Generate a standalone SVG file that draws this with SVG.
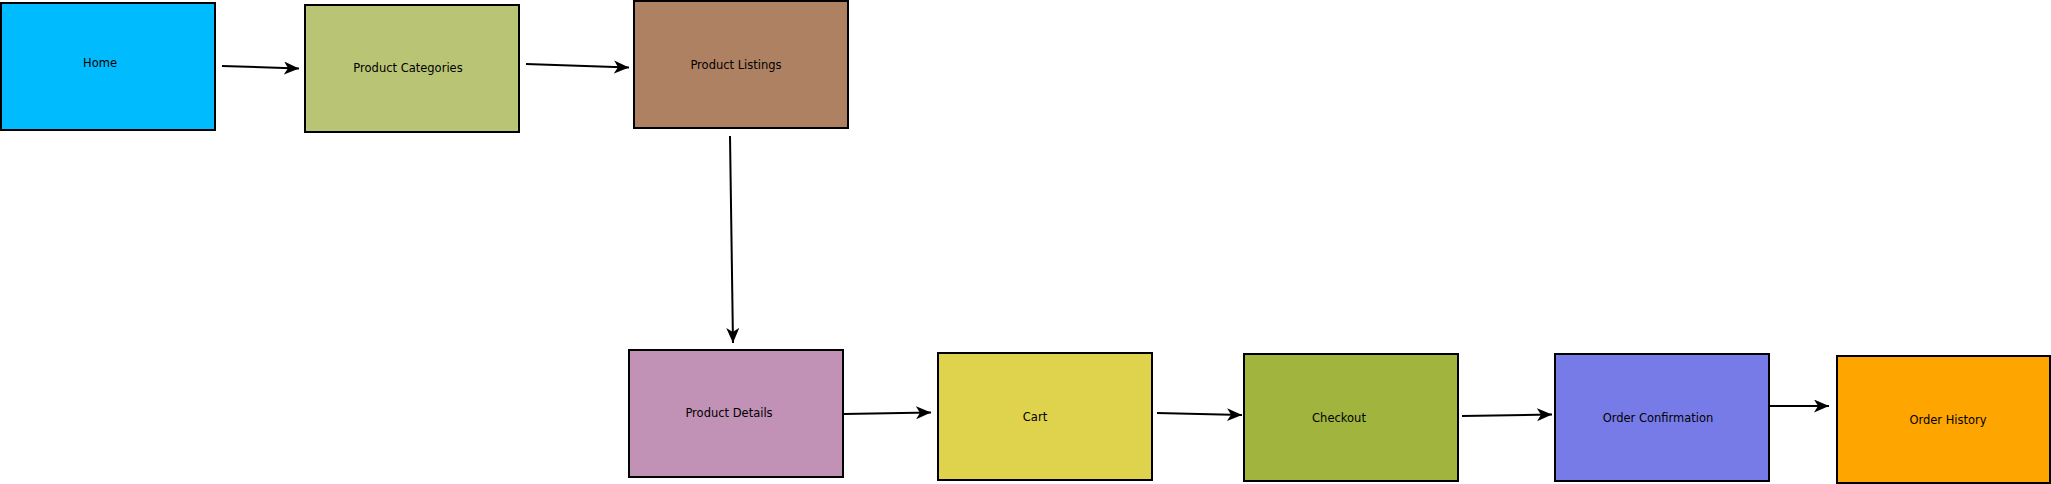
<svg xmlns="http://www.w3.org/2000/svg" width="2051" height="484" viewBox="0 0 2051 484">
<style>
.box{stroke:#000;stroke-width:2}
.lbl{font-family:"DejaVu Sans",sans-serif;font-size:11.5px;fill:#000;text-anchor:middle;dominant-baseline:central}
.edge{stroke:#000;stroke-width:2;fill:none;marker-end:url(#ah)}
</style>
<defs>
<marker id="ah" markerUnits="userSpaceOnUse" markerWidth="16" markerHeight="13" refX="15" refY="6.5" orient="auto">
<path d="M0,0 L15,6.5 L0,13 L4,6.5 Z" fill="#000"/>
</marker>
</defs>
<rect width="2051" height="484" fill="#fff"/>
<g id="connectors">
<line class="edge" x1="222" y1="66" x2="299" y2="68.5"/>
<line class="edge" x1="526" y1="64" x2="629" y2="67.5"/>
<line class="edge" x1="730" y1="136" x2="733" y2="343"/>
<line class="edge" x1="844" y1="414" x2="931" y2="412.5"/>
<line class="edge" x1="1157" y1="413" x2="1242" y2="415"/>
<line class="edge" x1="1462" y1="416" x2="1552" y2="414.5"/>
<line class="edge" x1="1768" y1="406" x2="1829" y2="406"/>
</g>
<g id="home"><rect class="box" x="1" y="3" width="214" height="127" fill="#00BCFF"/><text class="lbl" x="100" y="63">Home</text></g>
<g id="product-categories"><rect class="box" x="305" y="5" width="214" height="127" fill="#B9C575"/><text class="lbl" x="408" y="68">Product Categories</text></g>
<g id="product-listings"><rect class="box" x="634" y="1" width="214" height="127" fill="#AE8163"/><text class="lbl" x="736" y="65">Product Listings</text></g>
<g id="product-details"><rect class="box" x="629" y="350" width="214" height="127" fill="#C291B6"/><text class="lbl" x="729" y="413">Product Details</text></g>
<g id="cart"><rect class="box" x="938" y="353" width="214" height="127" fill="#DFD24D"/><text class="lbl" x="1035" y="417">Cart</text></g>
<g id="checkout"><rect class="box" x="1244" y="354" width="214" height="127" fill="#A1B43D"/><text class="lbl" x="1339" y="418">Checkout</text></g>
<g id="order-confirmation"><rect class="box" x="1555" y="354" width="214" height="127" fill="#777BE8"/><text class="lbl" x="1658" y="418">Order Confirmation</text></g>
<g id="order-history"><rect class="box" x="1837" y="356" width="213" height="127" fill="#FFA500"/><text class="lbl" x="1948" y="420">Order History</text></g>
</svg>
